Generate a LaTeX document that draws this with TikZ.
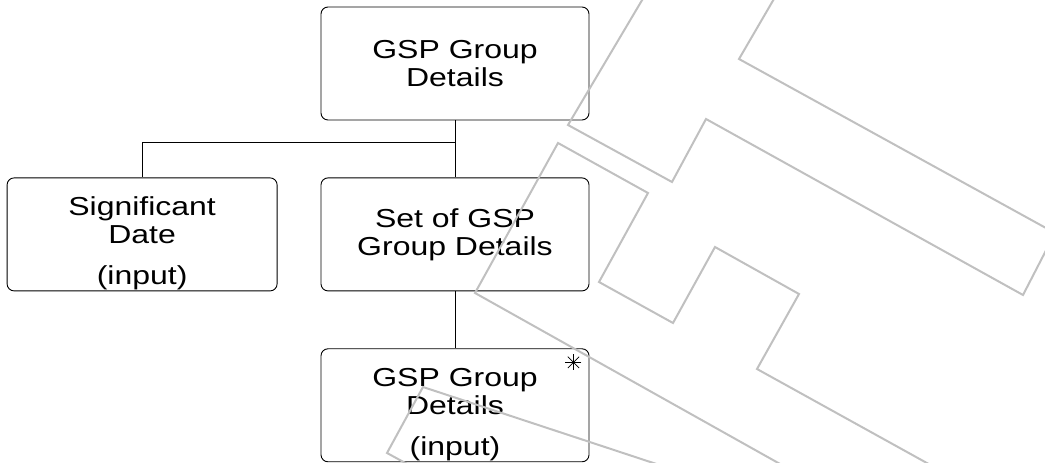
\documentclass[tikz,border=0pt]{standalone}
\usepackage{fontspec}
\setmainfont[FakeStretch=1.23]{Liberation Sans}
\usetikzlibrary{positioning}
\definecolor{wmgray}{RGB}{192,192,192}

\begin{document}
\begin{tikzpicture}[x=1pt,y=1pt,line width=0.9pt,
    main node/.style={draw,rounded corners=7pt,minimum width=268pt,minimum height=113pt,inner sep=0pt,align=center,font=\fontsize{26}{28}\selectfont},
    mark line/.style={line width=0.7pt},
    wm line/.style={draw=wmgray,line width=2pt}]
    \useasboundingbox (0,0) rectangle (1045,463);
    \node[main node] (gsp) at (455,399.5) {GSP Group\\Details};
    \node[main node] (setgsp) [below=57pt of gsp] {Set of GSP\\Group Details};
    \node[main node,minimum width=270pt] (sigdate) [left=43pt of setgsp] {\rule{0pt}{36pt}Significant\\Date\\[13pt](input)};
    \node[main node] (gspin) [below=57pt of setgsp] {\rule{0pt}{36pt}GSP Group\\Details\\[13pt](input)};
    \coordinate (fork) at ([yshift=-22pt]gsp.south);
    \coordinate (iter) at ([xshift=-16pt,yshift=-14pt]gspin.north east);
    \draw (gsp.south) -- (setgsp.north);
    \draw (fork) -| (sigdate.north);
    \draw (setgsp.south) -- (gspin.north);
    % iteration mark
    \foreach \a in {0,45,90,135}
        \draw[mark line] (iter) ++(\a:8pt) -- ++(\a+180:16pt);
    % watermark
    \begin{scope}
        \clip (0,0) rectangle (1045,463);
        \draw[wm line] (654,483) -- (568,338) -- (672,281) -- (706,344) -- (1023,168) -- (1055,230) -- (739,404) -- (785,483) -- cycle;
        \draw[wm line] (558,320) -- (648,270) -- (599,181) -- (673,140) -- (715,216) -- (799,169) -- (757,94) -- (963,-20) -- (814,-20) -- (475,170) -- cycle;
        \draw[wm line] (714,-20) -- (423,76) -- (387,10) -- (442,-20);
    \end{scope}
\end{tikzpicture}
\end{document}
